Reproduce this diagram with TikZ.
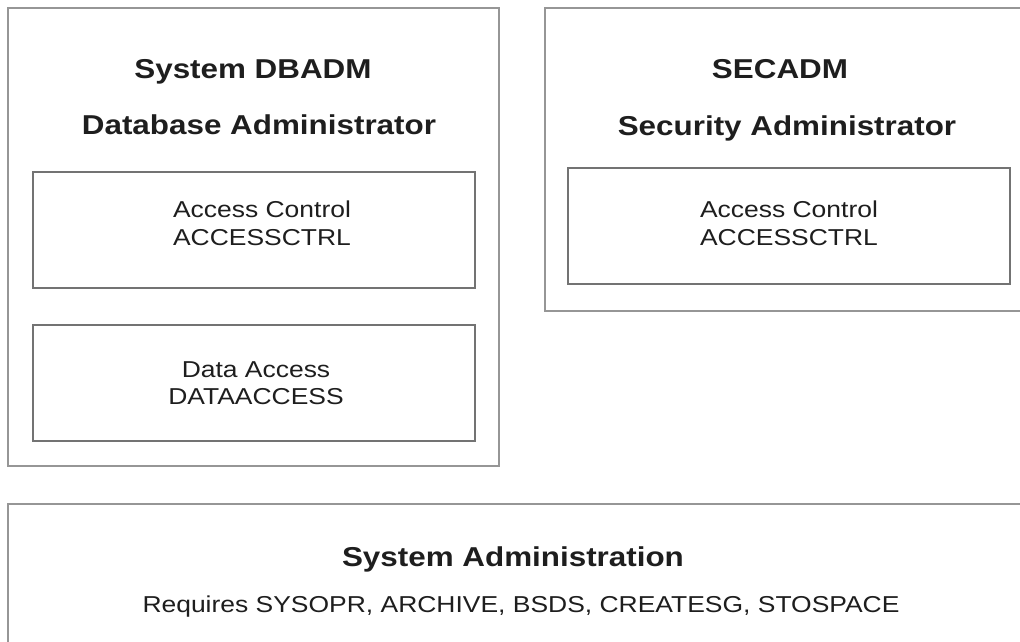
\documentclass[tikz,border=0pt]{standalone}
\usepackage{fontspec}
\setmainfont[FakeStretch=1.15]{Liberation Sans}
\usepackage{tikz}
\usetikzlibrary{positioning}
\definecolor{OuterLine}{RGB}{150,150,150}
\definecolor{InnerLine}{RGB}{115,115,115}
\definecolor{TextColor}{RGB}{30,30,30}

\begin{document}
\begin{tikzpicture}[x=1pt, y=-1pt,
            outerbox/.style={draw=OuterLine, line width=2pt, fill=white, inner sep=0pt},
            innerbox/.style={draw=InnerLine, line width=2pt, fill=white, inner sep=0pt, minimum width=442pt, minimum height=116pt},
            title/.style={anchor=base, inner sep=0pt, text=TextColor, font=\fontsize{27.3}{32}\selectfont\bfseries},
            label/.style={anchor=base, inner sep=0pt, text=TextColor, font=\fontsize{23}{27}\selectfont}
        ]
            \useasboundingbox (0,0) rectangle (1020,642);
            \clip (0,0) rectangle (1020,642);

            % outer boxes
            \node[outerbox, minimum width=491pt, minimum height=458pt] (dbadm) at (253.5,237) {};
            \node[outerbox, minimum width=485pt, minimum height=303pt] (secadm) at (787.5,159.5) {};
            \node[outerbox, minimum width=1022pt, minimum height=160pt] (sysadm) at (519,584) {};

            % inner boxes
            \node[innerbox] (accessL) at (254,230) {};
            \node[innerbox] (dataacc) at (254,383) {};
            \node[innerbox] (accessR) at (788.5,226) {};

            % headings
            \node[title] (dbadmName) at (253,78) {System DBADM};
            \node[title] (dbadmRole) at (259,134) {Database Administrator};
            \node[title] (secadmName) at (780,78) {SECADM};
            \node[title] (secadmRole) at (787,135) {Security Administrator};
            \node[title] (sysadmName) at (513,566) {System Administration};

            % box texts
            \node[label] (accessLName) at (262,217) {Access Control};
            \node[label] (accessLKey) at (262,245) {ACCESSCTRL};
            \node[label] (dataaccName) at (256,377) {Data Access};
            \node[label] (dataaccKey) at (256,404) {DATAACCESS};
            \node[label] (accessRName) at (789,217.5) {Access Control};
            \node[label] (accessRKey) at (789,245.5) {ACCESSCTRL};
            \node[label] (sysadmReq) at (521,612) {Requires SYSOPR, ARCHIVE, BSDS, CREATESG, STOSPACE};
        \end{tikzpicture}
\end{document}
